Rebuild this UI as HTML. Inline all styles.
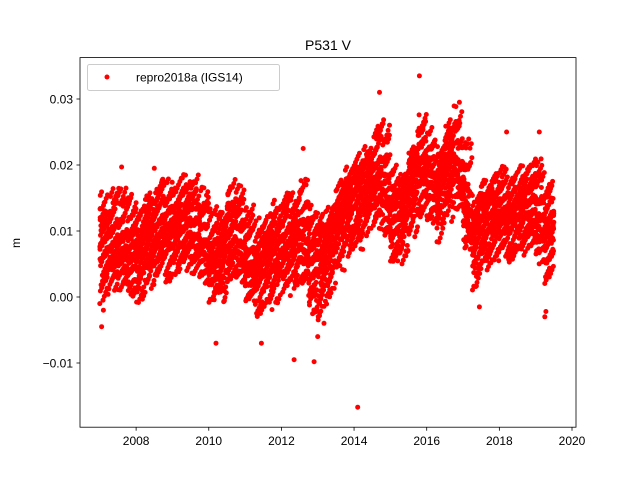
<!DOCTYPE html>
<html><head><meta charset="utf-8"><style>
body{margin:0;background:#fff}
svg{display:block;font-family:"Liberation Sans","DejaVu Sans",sans-serif}
</style></head><body>
<svg id="chart" width="640" height="480">
<rect width="640" height="480" fill="#fff"/>
<text x="328" y="50" font-size="14" text-anchor="middle">P531 V</text>
<text transform="translate(20,243) rotate(-90)" font-size="12" text-anchor="middle">m</text>
<g id="marks"></g>
<g id="axes"></g>
<rect x="80" y="57.6" width="496" height="369.6" fill="none" stroke="#000" stroke-width="0.8"/>
<g>
<rect x="87.5" y="64.5" width="192" height="26" rx="2" fill="#fff" fill-opacity="0.8" stroke="#ccc"/>
<circle cx="107" cy="77" r="2.5" fill="red"/>
<text x="136" y="81.5" font-size="12">repro2018a (IGS14)</text>
</g>
</svg>
<script>
const binStart=[2007.0,2007.25,2007.5,2007.75,2008.0,2008.25,2008.5,2008.75,2009.0,2009.25,2009.5,2009.75,2010.0,2010.25,2010.5,2010.75,2011.0,2011.25,2011.5,2011.75,2012.0,2012.25,2012.5,2012.75,2013.0,2013.25,2013.5,2013.75,2014.0,2014.25,2014.5,2014.75,2015.0,2015.25,2015.5,2015.75,2016.0,2016.25,2016.5,2016.75,2017.0,2017.25,2017.5,2017.75,2018.0,2018.25,2018.5,2018.75,2019.0,2019.25];
const binCenter=[0.008,0.008,0.008,0.007,0.006,0.008,0.010,0.010,0.010,0.011,0.011,0.009,0.006,0.006,0.009,0.009,0.006,0.004,0.005,0.007,0.008,0.008,0.010,0.006,0.005,0.007,0.011,0.013,0.015,0.016,0.018,0.018,0.013,0.012,0.016,0.020,0.019,0.016,0.019,0.021,0.016,0.009,0.011,0.012,0.013,0.012,0.013,0.014,0.013,0.010];
const binLow=[-0.001,0.001,0.001,0.0,-0.001,0.001,0.003,0.002,0.003,0.004,0.003,0.002,-0.001,-0.001,0.002,0.002,-0.001,-0.003,-0.002,-0.001,0.0,0.001,0.002,-0.003,-0.004,0.0,0.004,0.006,0.007,0.009,0.010,0.009,0.005,0.005,0.009,0.012,0.011,0.008,0.011,0.013,0.007,0.001,0.004,0.005,0.006,0.005,0.006,0.007,0.005,0.002];
const binHigh=[0.016,0.017,0.017,0.016,0.014,0.016,0.018,0.018,0.018,0.019,0.019,0.017,0.014,0.013,0.018,0.017,0.014,0.012,0.013,0.015,0.016,0.016,0.018,0.014,0.013,0.014,0.018,0.020,0.022,0.023,0.026,0.027,0.020,0.019,0.023,0.028,0.026,0.023,0.027,0.029,0.024,0.016,0.018,0.019,0.020,0.019,0.020,0.021,0.021,0.018];
const outlierT=[2007.05,2007.1,2010.2,2011.45,2012.35,2012.9,2014.1,2015.8,2014.7,2019.25,2019.28,2007.6,2008.5,2012.6,2016.9,2018.2,2019.1,2017.45,2013.0];
const outlierV=[-0.0045,-0.002,-0.007,-0.007,-0.0095,-0.0098,-0.0167,0.0335,0.031,-0.003,-0.0022,0.0197,0.0195,0.0225,0.0295,0.025,0.025,-0.0015,-0.006];
const xTicks=[2008,2010,2012,2014,2016,2018,2020];
const yTicks=[-0.01,0.0,0.01,0.02,0.03];
const yTickLabels=["−0.01","0.00","0.01","0.02","0.03"];

const X=t=>80+(t-2006.455)/(2020.11-2006.455)*496;
const Y=v=>297-v*6600;
const NS="http://www.w3.org/2000/svg";
const marks=document.getElementById('marks'), axes=document.getElementById('axes');
function dot(t,v){const c=document.createElementNS(NS,'circle');c.setAttribute('cx',X(t).toFixed(1));c.setAttribute('cy',Y(v).toFixed(1));c.setAttribute('r','2.5');c.setAttribute('fill','red');


marks.appendChild(c);}
const N=120;
for(let b=0;b<binStart.length;b++){
  const c=binCenter[b],lo=binLow[b],hi=binHigh[b];
  const next=b+1<binCenter.length?binCenter[b+1]:c;
  const seed=b*0.3819;
  for(let i=0;i<N;i++){
    const fx=((i*0.7548777)+seed)%1;
    const u=((i*0.5698403)+seed*1.7)%1, w=((i*0.6180339)+seed*2.3)%1;
    const r=(i%3===0)?(2*u-1):((u+w)-1);
    const cc=c+(next-c)*fx;
    const v=r<0?cc+r*(cc-lo):cc+r*(hi-cc);
    dot(binStart[b]+fx*0.25,v);
  }
}
for(let i=0;i<outlierT.length;i++)dot(outlierT[i],outlierV[i]);
function el(tag,attrs,name,txt){const e=document.createElementNS(NS,tag);for(const k in attrs)e.setAttribute(k,attrs[k]);


if(txt)e.textContent=txt;axes.appendChild(e);}
xTicks.forEach(t=>{const x=X(t);el('line',{x1:x,x2:x,y1:427.2,y2:430.7,stroke:'#000','stroke-width':0.8},'x-tick');
el('text',{x:x,y:445,'font-size':12,'text-anchor':'middle'},'x-tick-label',String(t));});
yTicks.forEach((v,i)=>{const y=Y(v);el('line',{x1:76.5,x2:80,y1:y,y2:y,stroke:'#000','stroke-width':0.8},'y-tick');
el('text',{x:73,y:y+4.5,'font-size':12,'text-anchor':'end'},'y-tick-label',yTickLabels[i]);});
</script>
</body></html>
